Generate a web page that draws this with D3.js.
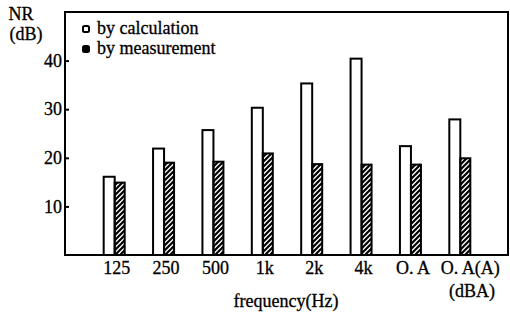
<!DOCTYPE html>
<html>
<head>
<meta charset="utf-8">
<script src="https://cdn.jsdelivr.net/npm/d3@7"></script>
<style>
  body { margin: 0; background: #fff; }
</style>
</head>
<body>
<svg id="chart" width="510" height="312"></svg>
<script>
const width = 510, height = 312;
const svg = d3.select("#chart");
const serif = "'Liberation Serif', 'DejaVu Serif', serif";

// data
const categories = ["125", "250", "500", "1k", "2k", "4k", "O. A", "O. A(A)"];
const byCalculation = [16.1, 21.9, 25.7, 30.3, 35.3, 40.4, 22.4, 27.9];
const byMeasurement = [14.9, 19.0, 19.2, 20.9, 18.7, 18.6, 18.6, 19.9];
const yTicks = [10, 20, 30, 40];

const frame = { left: 65, right: 508, top: 12, bottom: 255 };

const x = d3.scaleBand()
    .domain(categories)
    .range([90, 485]);

const y = d3.scaleLinear()
    .domain([0, 50])
    .range([frame.bottom, frame.top]);

// hatch for the measured bars
const defs = svg.append("defs");
defs.append("pattern")
    .attr("id", "hatch")
    .attr("patternUnits", "userSpaceOnUse")
    .attr("width", 5)
    .attr("height", 5)
    .append("path")
    .attr("d", "M-1,1 l2,-2 M0,5 l5,-5 M4,6 l2,-2")
    .attr("stroke", "#000")
    .attr("stroke-width", 2.2);

const barW = 11;

// calculation bars (open)
svg.selectAll(".calc")
    .data(categories)
    .enter().append("rect")
    .attr("class", "calc")
    .attr("x", (d) => x(d) + x.bandwidth() / 2 - barW)
    .attr("y", (d, i) => y(byCalculation[i]))
    .attr("width", barW)
    .attr("height", (d, i) => y(0) - y(byCalculation[i]))
    .attr("fill", "#fff")
    .attr("stroke", "#000")
    .attr("stroke-width", 2);

// measurement bars (hatched)
svg.selectAll(".meas")
    .data(categories)
    .enter().append("rect")
    .attr("class", "meas")
    .attr("x", (d) => x(d) + x.bandwidth() / 2)
    .attr("y", (d, i) => y(byMeasurement[i]))
    .attr("width", barW - 1)
    .attr("height", (d, i) => y(0) - y(byMeasurement[i]))
    .attr("fill", "url(#hatch)")
    .attr("stroke", "#000")
    .attr("stroke-width", 2);

// frame
svg.append("rect")
    .attr("x", frame.left)
    .attr("y", frame.top)
    .attr("width", frame.right - frame.left)
    .attr("height", frame.bottom - frame.top)
    .attr("fill", "none")
    .attr("stroke", "#000")
    .attr("stroke-width", 2);

// y ticks, pointing inward
const yAxis = d3.axisLeft(y)
    .tickValues(yTicks)
    .tickSizeInner(-4)
    .tickSizeOuter(0)
    .tickPadding(3);

const gy = svg.append("g")
    .attr("transform", `translate(${frame.left},0)`)
    .call(yAxis)
    .attr("font-family", serif)
    .attr("font-size", 18);
gy.select(".domain").remove();
gy.selectAll("line").attr("stroke", "#000").attr("stroke-width", 2);
gy.selectAll("text").attr("fill", "#000").attr("stroke", "#000").attr("stroke-width", 0.3);

// x labels
const gx = svg.append("g")
    .attr("transform", `translate(0,${frame.bottom})`)
    .call(d3.axisBottom(x).tickSize(0).tickPadding(6))
    .attr("font-family", serif)
    .attr("font-size", 18);
gx.select(".domain").remove();
gx.selectAll("text")
    .attr("fill", "#000")
    .attr("stroke", "#000").attr("stroke-width", 0.3)
    .attr("dx", (d) => d === "O. A(A)" ? 10 : 2);

// axis titles
const titles = svg.append("g")
    .attr("font-family", serif)
    .attr("font-size", 18)
    .attr("text-anchor", "middle")
    .attr("stroke", "#000").attr("stroke-width", 0.3);
titles.append("text").attr("x", 21).attr("y", 20).text("NR");
titles.append("text").attr("x", 26).attr("y", 40).text("(dB)");
titles.append("text").attr("x", 472).attr("y", 297).text("(dBA)");
titles.append("text").attr("x", 286).attr("y", 307).text("frequency(Hz)");

// legend
const legend = [
    { label: "by calculation", fill: "#fff", y: 29 },
    { label: "by measurement", fill: "#000", y: 49 }
];
const lg = svg.append("g")
    .attr("font-family", serif)
    .attr("font-size", 18)
    .selectAll("g")
    .data(legend)
    .enter().append("g")
    .attr("transform", (d) => `translate(83,${d.y})`);
lg.append("rect")
    .attr("x", 0).attr("y", -3)
    .attr("width", 6).attr("height", 6)
    .attr("rx", 1.5)
    .attr("fill", (d) => d.fill)
    .attr("stroke", "#000")
    .attr("stroke-width", 2);
lg.append("text")
    .attr("x", 14)
    .attr("y", 5)
    .attr("stroke", "#000").attr("stroke-width", 0.3)
    .text((d) => d.label);
</script>
</body>
</html>
